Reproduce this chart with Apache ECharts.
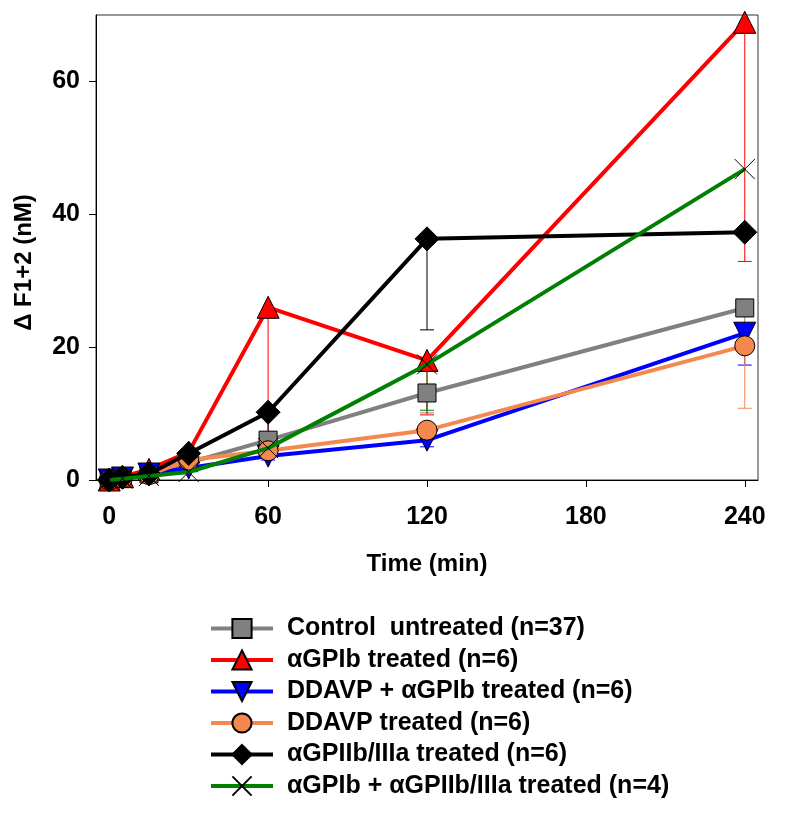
<!DOCTYPE html>
<html>
<head>
<meta charset="utf-8">
<script src="https://cdn.jsdelivr.net/npm/echarts@6/dist/echarts.min.js"></script>
<style>
  html, body { margin: 0; padding: 0; background: #fff; }
  #main { width: 800px; height: 823px; }
</style>
</head>
<body>
<div id="main"></div>
<script>
// time points (min)
var times = [0, 5, 15, 30, 60, 120, 240];

var names = [
  'Control  untreated (n=37)',
  'αGPIb treated (n=6)',
  'DDAVP + αGPIb treated (n=6)',
  'DDAVP treated (n=6)',
  'αGPIIb/IIIa treated (n=6)',
  'αGPIb + αGPIIb/IIIa treated (n=4)'
];

// mean values
var control  = [0, 0.3, 0.9, 2.6, 6.0, 13.1, 25.9];
var aGPIb    = [0, 0.5, 1.6, 4.2, 26.0, 18.0, 68.9];
var ddavpGP  = [0, 0.3, 0.9, 1.8, 3.6, 6.0, 22.1];
var ddavp    = [0, 0.3, 0.8, 3.0, 4.4, 7.5, 20.2];
var aGPIIb   = [0, 0.4, 0.9, 4.0, 10.2, 36.3, 37.3];
var combo    = [0, 0.2, 0.6, 1.2, 4.8, 17.4, 46.8];

// lower error bars (SD shown downward)
var controlErr = [0, 0, 0, 0, 1.0, 3.0, 3.0];
var aGPIbErr   = [0, 0, 0, 0, 18.8, 8.2, 36.0];
var ddavpGPErr = [0, 0, 0, 0, 0.6, 1.0, 4.8];
var ddavpErr   = [0, 0, 0, 0, 0.5, 1.5, 9.4];
var aGPIIbErr  = [0, 0, 0, 0, 3.3, 13.7, 0];
var comboErr   = [0, 0, 0, 0, 0.5, 6.9, 0];

var xTicks = [0, 60, 120, 180, 240];
var yTicks = [0, 20, 40, 60];

var colors = ['#808080', '#ff0000', '#0000ff', '#f4884e', '#000000', '#008000'];
var values = [control, aGPIb, ddavpGP, ddavp, aGPIIb, combo];
var errs = [controlErr, aGPIbErr, ddavpGPErr, ddavpErr, aGPIIbErr, comboErr];
var symbols = ['rect', 'triangle', 'triangle', 'circle', 'diamond', 'path://M0,0L1,1M1,0L0,1'];
var sizes = [18, 22, 22, 20, 24, 20];
var rotates = [0, 0, 180, 0, 0, 0];

var font = '"Liberation Sans", Arial, sans-serif';

var myChart = echarts.init(document.getElementById('main'));

var series = [];
// error bars first, under the lines
values.forEach(function (vals, i) {
  series.push({
    type: 'custom',
    name: names[i] + ' err',
    silent: true,
    clip: false,
    z: 1,
    data: times.map(function (t, k) { return [t, vals[k], errs[i][k]]; })
      .filter(function (d) { return d[2] > 0; }),
    renderItem: function (params, api) {
      var top = api.coord([api.value(0), api.value(1)]);
      var bot = api.coord([api.value(0), api.value(1) - api.value(2)]);
      return {
        type: 'group',
        children: [
          { type: 'line', shape: { x1: top[0], y1: top[1], x2: bot[0], y2: bot[1] },
            style: { stroke: colors[i], lineWidth: 1 } },
          { type: 'line', shape: { x1: bot[0] - 7, y1: bot[1], x2: bot[0] + 7, y2: bot[1] },
            style: { stroke: colors[i], lineWidth: 1 } }
        ]
      };
    }
  });
});
values.forEach(function (vals, i) {
  series.push({
    type: 'line',
    name: names[i],
    data: times.map(function (t, k) { return [t, vals[k]]; }),
    symbol: symbols[i],
    symbolSize: sizes[i],
    symbolRotate: rotates[i],
    showAllSymbol: true,
    clip: false,
    z: 2 + i,
    lineStyle: { color: colors[i], width: 4 },
    itemStyle: { color: colors[i], borderColor: '#000', borderWidth: 1 },
    emphasis: { disabled: true }
  });
});

option = {
  animation: false,
  backgroundColor: '#fff',
  grid: {
    left: 96, top: 15, right: 42, bottom: 343,
    show: true, borderColor: '#333', borderWidth: 1
  },
  legend: {
    orient: 'vertical',
    left: 204,
    top: 611,
    itemWidth: 62,
    itemHeight: 24,
    itemGap: 6.5,
    data: names,
    lineStyle: { width: 4 },
    textStyle: { fontFamily: font, fontWeight: 'bold', fontSize: 25, color: '#000', padding: [0, 0, 0, 9] }
  },
  xAxis: {
    type: 'value',
    min: -5,
    max: 245,
    name: 'Time (min)',
    nameLocation: 'middle',
    nameGap: 72,
    nameTextStyle: { fontFamily: font, fontWeight: 'bold', fontSize: 24, color: '#000' },
    axisLine: { show: true, onZero: false, lineStyle: { color: '#000', width: 1 } },
    axisTick: { show: true, length: 7, customValues: xTicks, lineStyle: { color: '#000' } },
    axisLabel: { customValues: xTicks, margin: 25, fontFamily: font, fontWeight: 'bold', fontSize: 25, color: '#000' },
    splitLine: { show: false }
  },
  yAxis: {
    type: 'value',
    min: 0,
    max: 70,
    name: 'Δ F1+2 (nM)',
    nameLocation: 'middle',
    nameGap: 60,
    nameTextStyle: { fontFamily: font, fontWeight: 'bold', fontSize: 24, color: '#000', padding: [0, 30, 0, 0] },
    axisLine: { show: true, onZero: false, lineStyle: { color: '#000', width: 1 } },
    axisTick: { show: true, length: 7, customValues: yTicks, lineStyle: { color: '#000' } },
    axisLabel: { customValues: yTicks, margin: 16, fontFamily: font, fontWeight: 'bold', fontSize: 25, color: '#000' },
    splitLine: { show: false }
  },
  series: series
};

myChart.setOption(option);
</script>
</body>
</html>
